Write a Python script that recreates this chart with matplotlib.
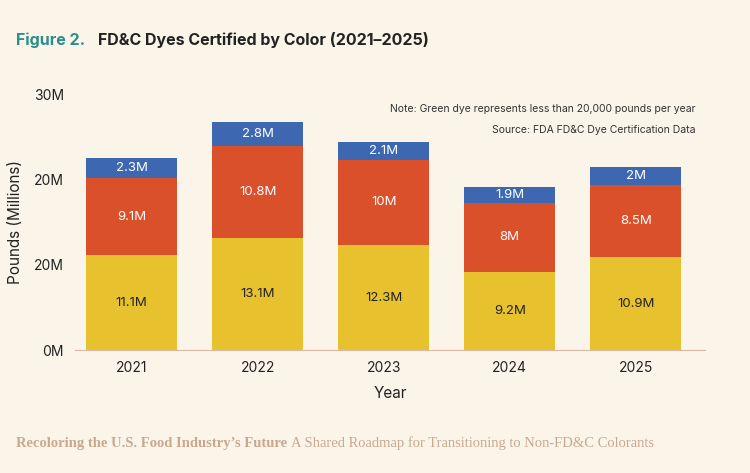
import matplotlib.pyplot as plt
from matplotlib.transforms import offset_copy

years = ["2021", "2022", "2023", "2024", "2025"]
yellow = [11.1, 13.1, 12.3, 9.2, 10.9]
red = [9.1, 10.8, 10.0, 8.0, 8.5]
blue = [2.3, 2.8, 2.1, 1.9, 2.0]
red_labels = ["9.1M", "10.8M", "10M", "8M", "8.5M"]
blue_labels = ["2.3M", "2.8M", "2.1M", "1.9M", "2M"]
ytick_vals = [0, 10, 20, 30]
ytick_labels = ["0M", "20M", "20M", "30M"]

bg = "#fbf5e9"
plt.rcParams['font.family'] = ['Inter', 'DejaVu Sans']
fig = plt.figure(figsize=(7.5, 4.73), dpi=100, facecolor=bg)
ax = fig.add_axes([0.1, 0.26, 0.84, 0.541])
ax.set_facecolor(bg)
x = range(len(years))
w = 0.72
ax.bar(x, yellow, w, color="#e8c22e")
ax.bar(x, red, w, bottom=yellow, color="#d9502b")
b2 = [a + b for a, b in zip(yellow, red)]
ax.bar(x, blue, w, bottom=b2, color="#3e67b1")
for i in x:
    ax.text(i, yellow[i] / 2, f"{yellow[i]}M", ha="center", va="center", fontsize=9.5, color="#222")
    ax.text(i, yellow[i] + red[i] / 2, red_labels[i], ha="center", va="center", fontsize=9.5, color="white")
    ax.text(i, b2[i] + blue[i] / 2, blue_labels[i], ha="center", va="center", fontsize=9.5, color="white")
ax.set_ylim(0, 30)
ax.set_xlim(-0.45, 4.55)
ax.set_yticks(ytick_vals)
ax.set_yticklabels(ytick_labels, fontsize=10, color="#222")
ax.set_xticks(list(x))
ax.set_xticklabels(years, fontsize=10, color="#222")
ax.tick_params(length=0, pad=8)
for s in ["top", "right", "left"]:
    ax.spines[s].set_visible(False)
ax.spines["bottom"].set_color("#d9b9a5")
ax.set_ylabel("Pounds (Millions)", fontsize=11, color="#222", labelpad=8)
ax.set_xlabel("Year", fontsize=11, color="#222", labelpad=8)
ax.text(0.985, 0.93, "Note: Green dye represents less than 20,000 pounds per year", transform=ax.transAxes,
        ha="right", fontsize=7.5, color="#333")
ax.text(0.985, 0.85, "Source: FDA FD&C Dye Certification Data", transform=ax.transAxes,
        ha="right", fontsize=7.5, color="#333")
fig.text(0.022, 0.905, "Figure 2.", fontsize=11.5, fontweight="bold", color="#2a8f8a")
fig.text(0.13, 0.905, "FD&C Dyes Certified by Color (2021\u20132025)", fontsize=11.5, fontweight="bold", color="#222")
t1 = fig.text(0.022, 0.055, "Recoloring the U.S. Food Industry\u2019s Future", fontsize=10.5, fontweight="bold",
              color="#c9a88e", family="Liberation Serif")
fig.canvas.draw()
ext = t1.get_window_extent()
fig.text(ext.x1 / fig.bbox.width + 0.004, 0.055,
         "A Shared Roadmap for Transitioning to Non-FD&C Colorants", fontsize=10.5,
         color="#c9a88e", family="Liberation Serif")
fig.savefig("out.png", facecolor=bg)
